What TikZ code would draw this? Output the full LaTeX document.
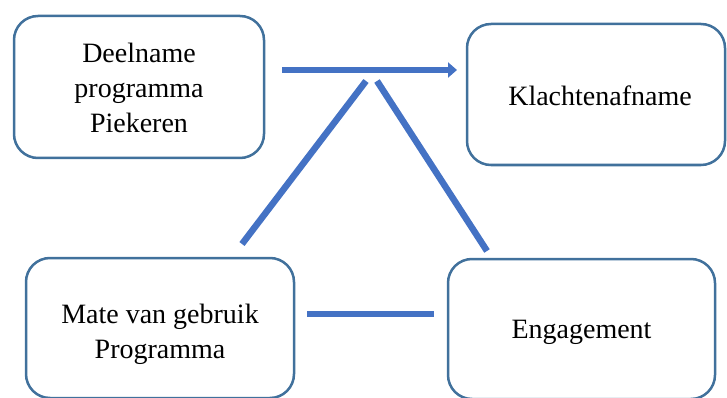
\documentclass[tikz,border=0pt]{standalone}
\usepackage{fontspec}
\setmainfont{Liberation Serif}
\usetikzlibrary{arrows.meta}
\definecolor{boxline}{HTML}{41719C}
\definecolor{link}{HTML}{4472C4}
\tikzset{
  box/.style={draw=boxline, line width=2.5pt, rounded corners=24pt, fill=white, inner sep=0pt},
  boxtext/.style={align=center, inner sep=0pt, font=\fontsize{28}{35}\selectfont},
  linkline/.style={draw=link, line width=6.5pt},
}
\begin{document}
\begin{tikzpicture}[x=1pt,y=-1pt]
\useasboundingbox (0,0) rectangle (727,398);
\node[box, minimum width=250pt, minimum height=142pt] (dp) at (139,87) {};
\node[box, minimum width=258pt, minimum height=141pt] (ka) at (596,94.5) {};
\node[box, minimum width=268pt, minimum height=140pt] (mg) at (160,328) {};
\node[box, minimum width=267pt, minimum height=140pt] (en) at (581.5,329) {};
\node[boxtext] (dpt) at (139,88) {Deelname\\programma\\Piekeren};
\node[boxtext] (kat) at (600,96) {Klachtenafname};
\node[boxtext] (mgt) at (160,334) {Mate van gebruik\\Programma};
\node[boxtext] (ent) at (581.5,332) {Engagement};
\coordinate (a1) at (282,70);
\coordinate (a2) at (457,70);
\coordinate (l1a) at (242,244);
\coordinate (l1b) at (366,81);
\coordinate (l2a) at (377,81);
\coordinate (l2b) at (487,251);
\coordinate (h1) at (307,314);
\coordinate (h2) at (434,314);
\draw[linkline, -{Triangle[length=9pt,width=15pt]}] (a1) -- (a2);
\draw[linkline] (l1a) -- (l1b);
\draw[linkline] (l2a) -- (l2b);
\draw[linkline] (h1) -- (h2);
\end{tikzpicture}
\end{document}
